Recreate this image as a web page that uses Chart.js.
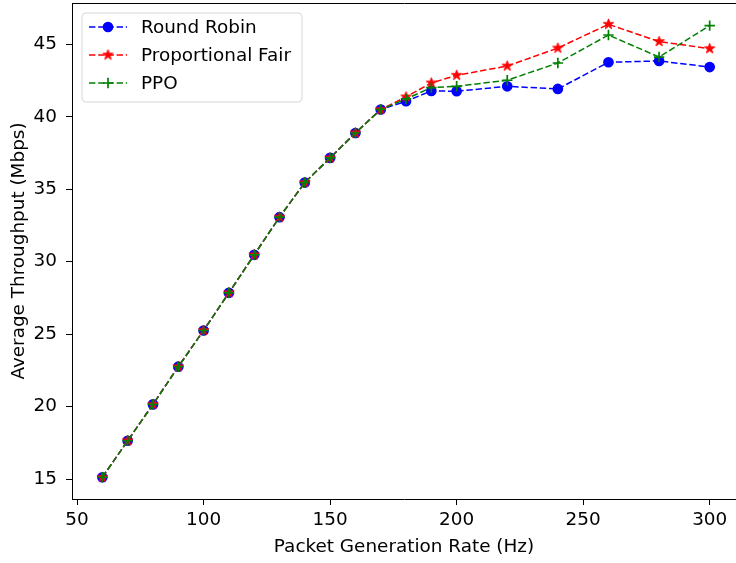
<!DOCTYPE html>
<html>
<head>
<meta charset="utf-8">
<script src="https://cdn.jsdelivr.net/npm/chart.js@4.4.1/dist/chart.umd.min.js"></script>
<style>
html, body { margin: 0; padding: 0; background: #fff; overflow: hidden; }
#wrap { width: 736px; height: 563px; }
</style>
</head>
<body>
<div id="wrap"><canvas id="chart" width="736" height="563"></canvas></div>
<script>
// ----------------------
// DATA
// ----------------------
const rates = [60, 70, 80, 90, 100, 110, 120, 130, 140, 150, 160, 170, 180, 190, 200, 220, 240, 260, 280, 300];
const roundRobin = [15.12, 17.64, 20.15, 22.75, 25.25, 27.85, 30.47, 33.07, 35.46, 37.16, 38.88, 40.50,
                    41.07, 41.78, 41.76, 42.10, 41.92, 43.76, 43.85, 43.43];
const propFair = [15.12, 17.64, 20.15, 22.75, 25.25, 27.85, 30.47, 33.07, 35.46, 37.16, 38.88, 40.50,
                  41.37, 42.33, 42.86, 43.50, 44.74, 46.38, 45.19, 44.70];
const ppo = [15.12, 17.64, 20.15, 22.75, 25.25, 27.85, 30.47, 33.07, 35.46, 37.16, 38.88, 40.50,
             41.23, 42.01, 42.10, 42.52, 43.71, 45.64, 44.12, 46.29];
const xTicks = [50, 100, 150, 200, 250, 300];
const yTicks = [15, 20, 25, 30, 35, 40, 45];

const FONT = "'DejaVu Sans', sans-serif";
const FS = 18.4;
Chart.defaults.font.family = FONT;
Chart.defaults.font.size = FS;
Chart.defaults.color = "#000";

// matplotlib-like filled star marker
function starMarker(color, r) {
    const c = document.createElement("canvas");
    const s = Math.ceil(r * 2 + 2);
    c.width = s; c.height = s;
    const g = c.getContext("2d");
    g.fillStyle = color;
    g.strokeStyle = color;
    g.lineWidth = 1;
    g.beginPath();
    for (let k = 0; k < 10; k++) {
        const rad = k % 2 === 0 ? r : r * 0.382;
        const a = -Math.PI / 2 + k * Math.PI / 5;
        g.lineTo(s / 2 + rad * Math.cos(a), s / 2 + rad * Math.sin(a));
    }
    g.closePath();
    g.fill();
    g.stroke();
    return c;
}

const toPoints = arr => rates.map((x, i) => ({ x: x, y: arr[i] }));
const DASH = [6.4, 2.8];

// top spine + legend drawn like matplotlib (right spine lies past the crop)
const frameAndLegend = {
    id: "frameAndLegend",
    afterDraw(chart) {
        const ctx = chart.ctx;
        const a = chart.chartArea;
        ctx.save();
        ctx.strokeStyle = "#000";
        ctx.lineWidth = 1;
        ctx.beginPath();
        ctx.moveTo(a.left, a.top + 0.5);
        ctx.lineTo(a.right + 10, a.top + 0.5);
        ctx.stroke();

        const x0 = a.left + 10, y0 = a.top + 10, w = 220, h = 89, r = 4;
        ctx.beginPath();
        ctx.moveTo(x0 + r, y0);
        ctx.arcTo(x0 + w, y0, x0 + w, y0 + h, r);
        ctx.arcTo(x0 + w, y0 + h, x0, y0 + h, r);
        ctx.arcTo(x0, y0 + h, x0, y0, r);
        ctx.arcTo(x0, y0, x0 + w, y0, r);
        ctx.closePath();
        ctx.fillStyle = "rgba(255,255,255,0.8)";
        ctx.fill();
        ctx.strokeStyle = "rgba(204,204,204,0.8)";
        ctx.stroke();

        chart.data.datasets.forEach((ds, i) => {
            const cy = y0 + 14 + i * 28;
            ctx.save();
            ctx.strokeStyle = ds.borderColor;
            ctx.lineWidth = ds.borderWidth;
            ctx.setLineDash(ds.borderDash);
            ctx.beginPath();
            ctx.moveTo(x0 + 7, cy);
            ctx.lineTo(x0 + 45, cy);
            ctx.stroke();
            ctx.restore();
            const px = x0 + 26;
            if (ds.pointStyle instanceof HTMLCanvasElement) {
                ctx.drawImage(ds.pointStyle, px - ds.pointStyle.width / 2, cy - ds.pointStyle.height / 2);
            } else {
                ctx.fillStyle = ds.pointBackgroundColor;
                ctx.strokeStyle = ds.pointBorderColor;
                ctx.lineWidth = ds.pointBorderWidth;
                Chart.helpers.drawPoint(ctx, { pointStyle: ds.pointStyle, radius: ds.pointRadius, borderWidth: ds.pointBorderWidth, rotation: 0 }, px, cy);
            }
            ctx.fillStyle = "#000";
            ctx.font = FS + "px " + FONT;
            ctx.textBaseline = "middle";
            ctx.fillText(ds.label, x0 + 59, cy + 1);
        });
        ctx.restore();
    }
};

new Chart(document.getElementById("chart"), {
    type: "line",
    data: {
        datasets: [
            {
                label: "Round Robin",
                data: toPoints(roundRobin),
                borderColor: "#0000ff",
                borderWidth: 1.5,
                borderDash: DASH,
                pointStyle: "circle",
                pointRadius: 4.6,
                pointBackgroundColor: "#0000ff",
                pointBorderColor: "#0000ff",
                pointBorderWidth: 1.5,
                order: 3
            },
            {
                label: "Proportional Fair",
                data: toPoints(propFair),
                borderColor: "#ff0000",
                borderWidth: 1.5,
                borderDash: DASH,
                pointStyle: starMarker("#ff0000", 5.4),
                pointRadius: 5,
                order: 2
            },
            {
                label: "PPO",
                data: toPoints(ppo),
                borderColor: "#008000",
                borderWidth: 1.5,
                borderDash: DASH,
                pointStyle: "cross",
                pointRadius: 5.2,
                pointBackgroundColor: "#008000",
                pointBorderColor: "#008000",
                pointBorderWidth: 1.7,
                order: 1
            }
        ]
    },
    options: {
        responsive: false,
        animation: false,
        events: [],
        devicePixelRatio: 1,
        layout: { autoPadding: false, padding: { top: 3, right: 0, left: 0, bottom: 0 } },
        plugins: { legend: { display: false }, tooltip: { enabled: false } },
        scales: {
            x: {
                type: "linear",
                min: 48,
                max: 310.4,
                afterBuildTicks: s => { s.ticks = xTicks.map(v => ({ value: v })); },
                afterFit: s => { s.height = 64; s.paddingLeft = 0; s.paddingRight = 0; },
                grid: { drawOnChartArea: false, drawTicks: true, tickLength: 6, tickColor: "#000", tickWidth: 1 },
                border: { display: true, color: "#000", width: 1 },
                ticks: { padding: 4, maxRotation: 0, autoSkip: false, color: "#000" },
                title: { display: true, text: "Packet Generation Rate (Hz)", color: "#000", padding: { top: 0, bottom: 5 } }
            },
            y: {
                min: 13.62,
                max: 47.85,
                afterBuildTicks: s => { s.ticks = yTicks.map(v => ({ value: v })); },
                afterFit: s => { s.width = 72; s.paddingTop = 0; s.paddingBottom = 0; },
                grid: { drawOnChartArea: false, drawTicks: true, tickLength: 6, tickColor: "#000", tickWidth: 1 },
                border: { display: true, color: "#000", width: 1 },
                ticks: { padding: 9, autoSkip: false, color: "#000" },
                title: { display: true, text: "Average Throughput (Mbps)", color: "#000", padding: { top: 8, bottom: 0 } }
            }
        }
    },
    plugins: [frameAndLegend]
});
</script>
</body>
</html>
